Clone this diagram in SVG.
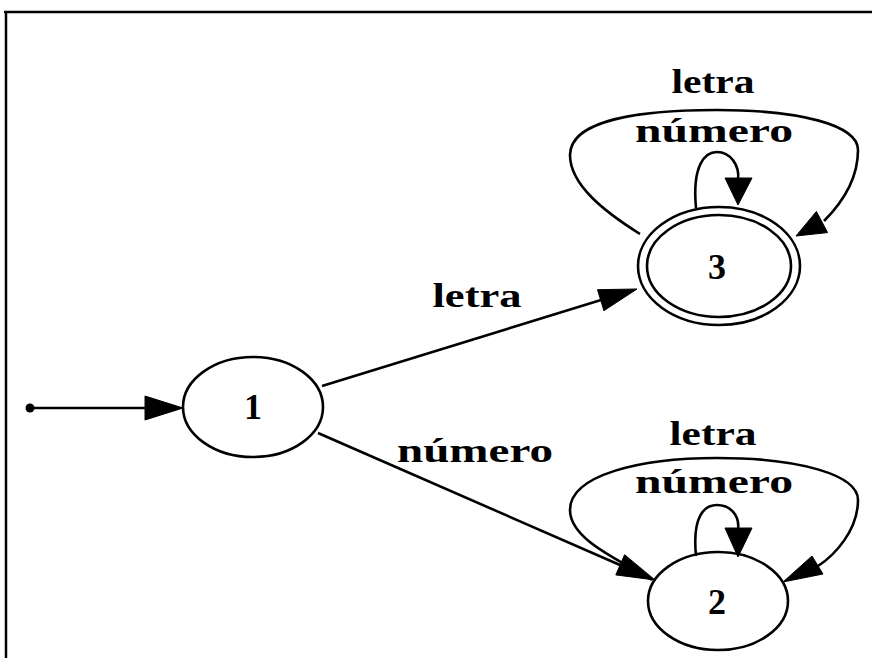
<svg xmlns="http://www.w3.org/2000/svg" width="872" height="658" viewBox="0 0 872 658">
  <style>
    .frame { fill: none; stroke: #000; stroke-width: 2.5; }
    .shape { fill: none; stroke: #000; stroke-width: 2.6; }
    .edge { fill: none; stroke: #000; stroke-width: 2.6; }
    .head { fill: #000; stroke: #000; stroke-width: 1; }
    .lbl { font-family: "Liberation Serif", "Times New Roman", serif; font-size: 33px; font-weight: bold; fill: #000; text-anchor: middle; }
    .num { font-size: 36px; }
  </style>
  <rect width="872" height="658" fill="#fff"/>
  <!-- outer frame: top and left rules only -->
  <path class="frame" d="M4,12 H872 M6,12 V658"/>

  <g id="connectors">
    <!-- start marker into state 1 -->
    <circle cx="30" cy="408" r="4.5" fill="#000"/>
    <path class="edge" d="M30,408 H146"/>
    <polygon class="head" points="183,408 145,396 145,420"/>

    <!-- 1 -> 3 (letra) -->
    <path class="edge" d="M322,386 L601,300"/>
    <polygon class="head" points="637,289 603.9,310.7 597.5,289.7"/>

    <!-- 1 -> 2 (número) -->
    <path class="edge" d="M318,433 L620,565"/>
    <polygon class="head" points="655,580 615.8,574.9 624.6,554.7"/>

    <!-- 3 self loops -->
    <path class="edge" d="M696,208 C692,165 705,152 717,152 C730,152 740,165 738,180"/>
    <polygon class="head" points="738,205 725,178 752,178"/>
    <path class="edge" d="M640,234 C605,212 570,185 570,155 C570,120 640,110 717,110 C800,110 858,125 858,150 C858,180 840,205 824,221"/>
    <polygon class="head" points="796,236 827.6,232.6 816.4,211.4"/>

    <!-- 2 self loops -->
    <path class="edge" d="M696,556 C692,515 705,505 717,505 C730,505 740,515 738,530"/>
    <polygon class="head" points="738,557 725,528 752,528"/>
    <path class="edge" d="M652,580 C620,560 570,540 570,510 C570,475 640,458 717,458 C800,458 858,475 858,500 C858,530 835,555 818,566"/>
    <polygon class="head" points="783,582 823,574 812,556"/>

    <!-- edge labels -->
    <text class="lbl" x="477" y="307" textLength="89" lengthAdjust="spacingAndGlyphs">letra</text>
    <text class="lbl" x="475" y="462" textLength="156" lengthAdjust="spacingAndGlyphs">número</text>
    <text class="lbl" x="713" y="93" textLength="83" lengthAdjust="spacingAndGlyphs">letra</text>
    <text class="lbl" x="714" y="142" textLength="158" lengthAdjust="spacingAndGlyphs">número</text>
    <text class="lbl" x="713" y="445" textLength="87" lengthAdjust="spacingAndGlyphs">letra</text>
    <text class="lbl" x="714" y="493" textLength="158" lengthAdjust="spacingAndGlyphs">número</text>
  </g>

  <g id="state1">
    <ellipse class="shape" cx="253" cy="407" rx="70" ry="50"/>
    <text class="lbl num" x="253" y="419">1</text>
  </g>

  <g id="state3">
    <ellipse class="shape" cx="719" cy="266" rx="81" ry="59"/>
    <ellipse class="shape" cx="719" cy="266" rx="72" ry="51"/>
    <text class="lbl num" x="717" y="279">3</text>
  </g>

  <g id="state2">
    <ellipse class="shape" cx="718" cy="601" rx="70" ry="49"/>
    <text class="lbl num" x="717" y="614">2</text>
  </g>
</svg>
